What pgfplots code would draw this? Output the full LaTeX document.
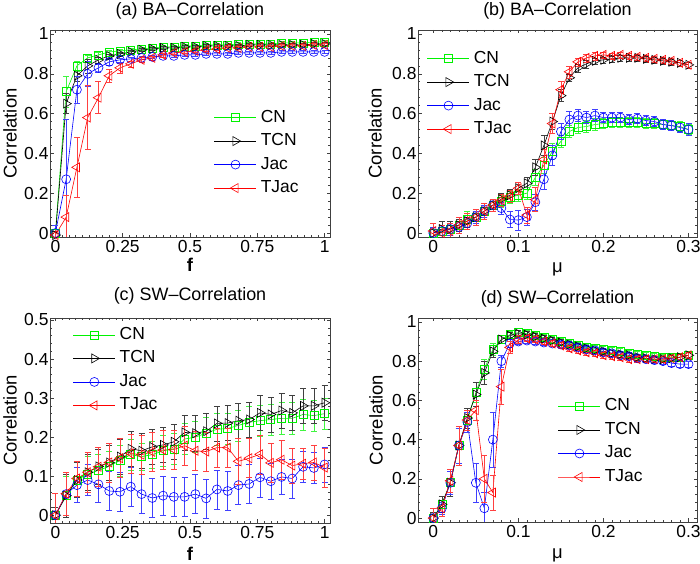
\documentclass[border=0pt]{standalone}
\usepackage{fontspec}
\setmainfont{Liberation Sans}
\usepackage{pgfplots}
\usepackage{pgfplotstable}
\pgfplotsset{compat=1.18}

\definecolor{mgreen}{rgb}{0,0.95,0}
\definecolor{mblue}{rgb}{0,0,1}
\definecolor{mred}{rgb}{1,0,0}
\definecolor{mblack}{rgb}{0,0,0}

\pgfplotstableread{
x cn cne tcn tcne jac jace tjac tjace
0.00 0.000 0.02 -0.010 0.02 0.000 0.04 -0.010 0.03
0.04 0.710 0.08 0.650 0.05 0.270 0.30 0.080 0.11
0.08 0.840 0.025 0.790 0.03 0.720 0.07 0.330 0.15
0.12 0.880 0.015 0.840 0.035 0.800 0.065 0.580 0.16
0.16 0.895 0.012 0.870 0.015 0.830 0.02 0.680 0.08
0.20 0.910 0.01 0.890 0.01 0.860 0.015 0.790 0.035
0.24 0.915 0.01 0.900 0.01 0.870 0.01 0.830 0.025
0.28 0.920 0.008 0.910 0.008 0.875 0.01 0.850 0.015
0.32 0.925 0.008 0.920 0.008 0.880 0.008 0.870 0.012
0.36 0.930 0.008 0.925 0.008 0.885 0.008 0.880 0.01
0.40 0.935 0.008 0.930 0.008 0.890 0.008 0.895 0.01
0.44 0.935 0.008 0.930 0.008 0.890 0.008 0.905 0.008
0.48 0.940 0.008 0.935 0.008 0.895 0.008 0.910 0.008
0.52 0.940 0.008 0.935 0.008 0.895 0.008 0.915 0.008
0.56 0.945 0.008 0.940 0.008 0.900 0.008 0.920 0.008
0.60 0.945 0.008 0.940 0.008 0.900 0.008 0.925 0.008
0.64 0.945 0.008 0.940 0.008 0.900 0.008 0.930 0.008
0.68 0.950 0.008 0.940 0.008 0.905 0.008 0.930 0.008
0.72 0.950 0.008 0.945 0.008 0.905 0.008 0.935 0.008
0.76 0.950 0.008 0.945 0.008 0.905 0.008 0.935 0.008
0.80 0.950 0.008 0.945 0.008 0.905 0.008 0.935 0.008
0.84 0.955 0.008 0.945 0.008 0.910 0.008 0.940 0.008
0.88 0.955 0.008 0.945 0.008 0.910 0.008 0.940 0.008
0.92 0.955 0.008 0.945 0.008 0.910 0.008 0.940 0.008
0.96 0.960 0.008 0.950 0.008 0.910 0.008 0.945 0.008
1.00 0.960 0.008 0.950 0.008 0.910 0.008 0.945 0.008
}\dataA

\pgfplotstableread{
x cn cne tcn tcne jac jace tjac tjace
0.00 0.000 0.03 0.000 0.03 0.000 0.03 0.010 0.04
0.01 0.010 0.03 0.020 0.04 0.010 0.03 0.000 0.04
0.02 0.020 0.03 0.020 0.04 0.020 0.03 0.010 0.04
0.03 0.040 0.03 0.040 0.03 0.030 0.03 0.040 0.04
0.04 0.070 0.04 0.060 0.03 0.050 0.03 0.060 0.04
0.05 0.080 0.03 0.080 0.03 0.080 0.03 0.080 0.04
0.06 0.110 0.03 0.110 0.03 0.110 0.03 0.110 0.04
0.07 0.140 0.03 0.140 0.03 0.140 0.03 0.140 0.03
0.08 0.160 0.03 0.170 0.03 0.125 0.03 0.165 0.03
0.09 0.180 0.03 0.190 0.03 0.068 0.04 0.185 0.03
0.10 0.190 0.03 0.225 0.03 0.065 0.05 0.225 0.03
0.11 0.200 0.03 0.250 0.03 0.080 0.04 0.090 0.04
0.12 0.280 0.04 0.330 0.04 0.155 0.04 0.168 0.06
0.13 0.340 0.04 0.440 0.05 0.270 0.05 0.370 0.05
0.14 0.410 0.04 0.560 0.04 0.390 0.05 0.550 0.05
0.15 0.460 0.03 0.690 0.03 0.510 0.04 0.720 0.04
0.16 0.510 0.03 0.780 0.02 0.570 0.04 0.810 0.03
0.17 0.530 0.03 0.830 0.02 0.590 0.03 0.860 0.02
0.18 0.535 0.03 0.850 0.02 0.580 0.03 0.880 0.02
0.19 0.545 0.03 0.865 0.015 0.590 0.03 0.890 0.02
0.20 0.550 0.025 0.870 0.015 0.580 0.025 0.895 0.015
0.21 0.555 0.025 0.875 0.015 0.580 0.025 0.890 0.015
0.22 0.555 0.025 0.880 0.015 0.580 0.025 0.895 0.015
0.23 0.555 0.025 0.880 0.015 0.570 0.025 0.890 0.015
0.24 0.555 0.025 0.880 0.015 0.575 0.025 0.885 0.015
0.25 0.550 0.025 0.875 0.015 0.565 0.025 0.880 0.015
0.26 0.550 0.025 0.870 0.015 0.560 0.025 0.875 0.015
0.27 0.545 0.025 0.865 0.015 0.545 0.025 0.870 0.015
0.28 0.540 0.025 0.860 0.015 0.540 0.025 0.865 0.015
0.29 0.535 0.025 0.855 0.015 0.530 0.025 0.855 0.015
0.30 0.520 0.025 0.845 0.015 0.520 0.03 0.845 0.015
}\dataB

\pgfplotstableread{
x cn cne tcn tcne jac jace tjac tjace
0.00 0.000 0.02 0.000 0.02 0.000 0.055 0.000 0.055
0.04 0.050 0.05 0.050 0.055 0.054 0.055 0.055 0.055
0.08 0.090 0.045 0.090 0.045 0.077 0.045 0.094 0.045
0.12 0.105 0.045 0.110 0.045 0.090 0.04 0.110 0.05
0.16 0.115 0.04 0.125 0.045 0.079 0.045 0.124 0.05
0.20 0.125 0.04 0.135 0.045 0.062 0.05 0.135 0.05
0.24 0.140 0.04 0.150 0.045 0.060 0.05 0.146 0.05
0.28 0.155 0.04 0.170 0.045 0.073 0.05 0.158 0.05
0.32 0.150 0.035 0.165 0.045 0.054 0.05 0.155 0.05
0.36 0.155 0.035 0.175 0.045 0.044 0.05 0.162 0.05
0.40 0.165 0.04 0.180 0.045 0.050 0.05 0.167 0.05
0.44 0.170 0.04 0.188 0.045 0.047 0.05 0.168 0.05
0.48 0.195 0.04 0.212 0.045 0.047 0.05 0.178 0.05
0.52 0.200 0.04 0.210 0.045 0.054 0.05 0.165 0.05
0.56 0.210 0.04 0.215 0.045 0.043 0.05 0.163 0.05
0.60 0.220 0.04 0.235 0.045 0.066 0.05 0.173 0.05
0.64 0.222 0.04 0.236 0.045 0.062 0.05 0.173 0.05
0.68 0.230 0.04 0.242 0.045 0.077 0.05 0.138 0.06
0.72 0.238 0.04 0.245 0.045 0.080 0.05 0.146 0.05
0.76 0.242 0.04 0.262 0.045 0.097 0.05 0.156 0.05
0.80 0.245 0.04 0.258 0.045 0.087 0.045 0.134 0.05
0.84 0.248 0.04 0.268 0.045 0.098 0.045 0.142 0.05
0.88 0.248 0.04 0.262 0.045 0.094 0.05 0.127 0.045
0.92 0.258 0.04 0.280 0.045 0.124 0.04 0.132 0.04
0.96 0.255 0.04 0.280 0.045 0.121 0.04 0.135 0.045
1.00 0.260 0.04 0.288 0.045 0.130 0.045 0.122 0.05
}\dataC

\pgfplotstableread{
x cn cne tcn tcne jac jace tjac tjace
0.00 0.000 0.03 0.000 0.03 0.000 0.02 0.000 0.05
0.01 0.070 0.04 0.070 0.04 0.050 0.03 0.050 0.04
0.02 0.180 0.07 0.180 0.07 0.180 0.06 0.190 0.06
0.03 0.370 0.09 0.370 0.09 0.370 0.09 0.370 0.10
0.04 0.500 0.05 0.510 0.05 0.490 0.05 0.500 0.05
0.05 0.640 0.05 0.630 0.06 0.180 0.10 0.550 0.05
0.06 0.760 0.05 0.740 0.06 0.050 0.08 0.200 0.12
0.07 0.860 0.03 0.850 0.03 0.400 0.14 0.130 0.09
0.08 0.910 0.02 0.910 0.02 0.800 0.03 0.670 0.09
0.09 0.935 0.015 0.930 0.015 0.890 0.02 0.870 0.03
0.10 0.945 0.015 0.940 0.015 0.900 0.015 0.910 0.02
0.11 0.940 0.015 0.935 0.015 0.905 0.015 0.915 0.015
0.12 0.930 0.015 0.925 0.015 0.900 0.015 0.910 0.015
0.13 0.920 0.015 0.915 0.015 0.895 0.015 0.900 0.015
0.14 0.910 0.015 0.905 0.015 0.890 0.015 0.890 0.015
0.15 0.900 0.015 0.895 0.015 0.885 0.015 0.880 0.015
0.16 0.890 0.015 0.885 0.015 0.880 0.015 0.865 0.015
0.17 0.880 0.015 0.875 0.015 0.870 0.015 0.855 0.015
0.18 0.870 0.015 0.865 0.015 0.860 0.015 0.845 0.015
0.19 0.865 0.015 0.855 0.015 0.855 0.015 0.840 0.015
0.20 0.860 0.015 0.850 0.015 0.845 0.015 0.830 0.015
0.21 0.855 0.015 0.840 0.015 0.840 0.015 0.825 0.015
0.22 0.850 0.015 0.835 0.015 0.830 0.015 0.820 0.015
0.23 0.840 0.015 0.830 0.015 0.825 0.015 0.810 0.015
0.24 0.835 0.015 0.820 0.015 0.815 0.015 0.810 0.015
0.25 0.830 0.015 0.815 0.015 0.810 0.015 0.810 0.015
0.26 0.825 0.015 0.810 0.015 0.805 0.015 0.810 0.015
0.27 0.820 0.015 0.810 0.015 0.800 0.015 0.810 0.015
0.28 0.820 0.015 0.815 0.015 0.790 0.015 0.815 0.015
0.29 0.820 0.015 0.820 0.015 0.785 0.015 0.820 0.015
0.30 0.830 0.015 0.830 0.015 0.785 0.015 0.830 0.015
}\dataD

\pgfplotsset{
  panel/.style={
    scale only axis,
    anchor=south west,
    axis line style={black!75, line width=0.5bp},
    tick style={black!75, line width=0.5bp},
    major tick length=3.5bp, minor tick length=2bp,
    tick align=inside,
    ticklabel style={font=\fontsize{17.5}{20}\selectfont},
    yticklabel style={xshift=2bp},
    /pgf/number format/assume math mode=true,
    /pgf/number format/fixed,
    /pgf/number format/precision=2,
    ylabel={Correlation},
    label style={font=\fontsize{18.5}{22}\selectfont},
    xlabel style={at={(axis description cs:0.5,0)}, anchor=north, inner sep=0pt},
    ylabel style={anchor=center, inner sep=0pt},
    every axis title/.style={at={(axis description cs:0.5,1)}, anchor=base, inner sep=0pt, font=\fontsize{18}{21}\selectfont},
    legend style={draw=none, fill=none, font=\fontsize{17.5}{20}\selectfont,
      nodes={inner sep=0pt, text height=12.5bp, text depth=0bp, anchor=base west},
      row sep=11bp, /tikz/every odd column/.append style={column sep=4bp}},
    legend cell align=left,
    legend image code/.code={\draw[mark repeat=2,mark phase=2,##1] plot coordinates {(0bp,4.5bp) (21bp,4.5bp) (42bp,4.5bp)};},
  },
  ser/.style n args={4}{color=#1, line width=0.6bp, mark=#2, mark size=#3,
    mark options={solid, line width=0.6bp, fill=none, draw=#1, rotate=#4},
    /pgfplots/error bars/y dir=both, /pgfplots/error bars/y explicit,
    /pgfplots/error bars/error bar style={draw=#1!75!white, line width=0.5bp},
    /pgfplots/error bars/error mark options={rotate=90, mark size=3bp, draw=#1!75!white, line width=0.5bp}},
  cnS/.style={ser={mgreen}{square}{4bp}{0}},
  tcnS/.style={ser={mblack}{triangle}{5.2bp}{-90}},
  jacS/.style={ser={mblue}{o}{4.5bp}{0}},
  tjacS/.style={ser={mred}{triangle}{5.2bp}{90}},
}

\newcommand{\fourplots}[1]{%
  \addplot[cnS] table[x=x,y=cn,y error=cne]{#1};
  \addplot[tcnS] table[x=x,y=tcn,y error=tcne]{#1};
  \addplot[jacS] table[x=x,y=jac,y error=jace]{#1};
  \addplot[tjacS] table[x=x,y=tjac,y error=tjace]{#1};
  \legend{CN,TCN,Jac,TJac}%
}

\begin{document}
\begin{tikzpicture}
\useasboundingbox (0bp,0bp) rectangle (700bp,564bp);
% (a)
\begin{axis}[panel, at={(50bp,327bp)}, width=280bp, height=207bp,
  xmin=-0.02, xmax=1.02, ymin=-0.02, ymax=1.02,
  xtick={0,0.25,0.5,0.75,1}, ytick={0,0.2,0.4,0.6,0.8,1},
  minor x tick num=9, minor y tick num=4,
  title={(a) BA\textendash Correlation}, title style={yshift=14bp},
  xlabel={\textbf{f}}, xlabel style={yshift=-21bp},
  ylabel style={at={(axis description cs:-0.143,0.5)}},
  legend style={at={(0.575,0.415)}, anchor=west}]
\fourplots{\dataA}
\end{axis}
% (b)
\begin{axis}[panel, at={(418bp,327bp)}, width=279bp, height=207bp,
  xmin=-0.018, xmax=0.31, ymin=-0.02, ymax=1.02,
  xtick={0,0.1,0.2,0.3}, ytick={0,0.2,0.4,0.6,0.8,1},
  minor x tick num=9, minor y tick num=4,
  title={(b) BA\textendash Correlation}, title style={yshift=14bp},
  xlabel={μ}, xlabel style={yshift=-26bp},
  ylabel style={at={(axis description cs:-0.154,0.5)}},
  legend style={at={(0.0215,0.70)}, anchor=west}]
\fourplots{\dataB}
\end{axis}
% (c)
\begin{axis}[panel, at={(50bp,41bp)}, width=280bp, height=205bp,
  xmin=-0.02, xmax=1.02, ymin=-0.02, ymax=0.505,
  xtick={0,0.25,0.5,0.75,1}, ytick={0,0.1,0.2,0.3,0.4,0.5},
  minor x tick num=9, minor y tick num=4,
  title={(c) SW\textendash Correlation}, title style={yshift=17bp},
  xlabel={\textbf{f}}, xlabel style={yshift=-24bp},
  ylabel style={at={(axis description cs:-0.143,0.5)}},
  legend style={at={(0.071,0.754)}, anchor=west}]
\fourplots{\dataC}
\end{axis}
% (d)
\begin{axis}[panel, at={(418bp,42bp)}, width=279bp, height=204bp,
  xmin=-0.018, xmax=0.31, ymin=-0.02, ymax=1.02,
  xtick={0,0.1,0.2,0.3}, ytick={0,0.2,0.4,0.6,0.8,1},
  minor x tick num=9, minor y tick num=4,
  title={(d) SW\textendash Correlation}, title style={yshift=14bp},
  xlabel={μ}, xlabel style={yshift=-27bp},
  ylabel style={at={(axis description cs:-0.15,0.5)}},
  legend style={at={(0.491,0.402)}, anchor=west}]
\fourplots{\dataD}
\end{axis}
\end{tikzpicture}
\end{document}
